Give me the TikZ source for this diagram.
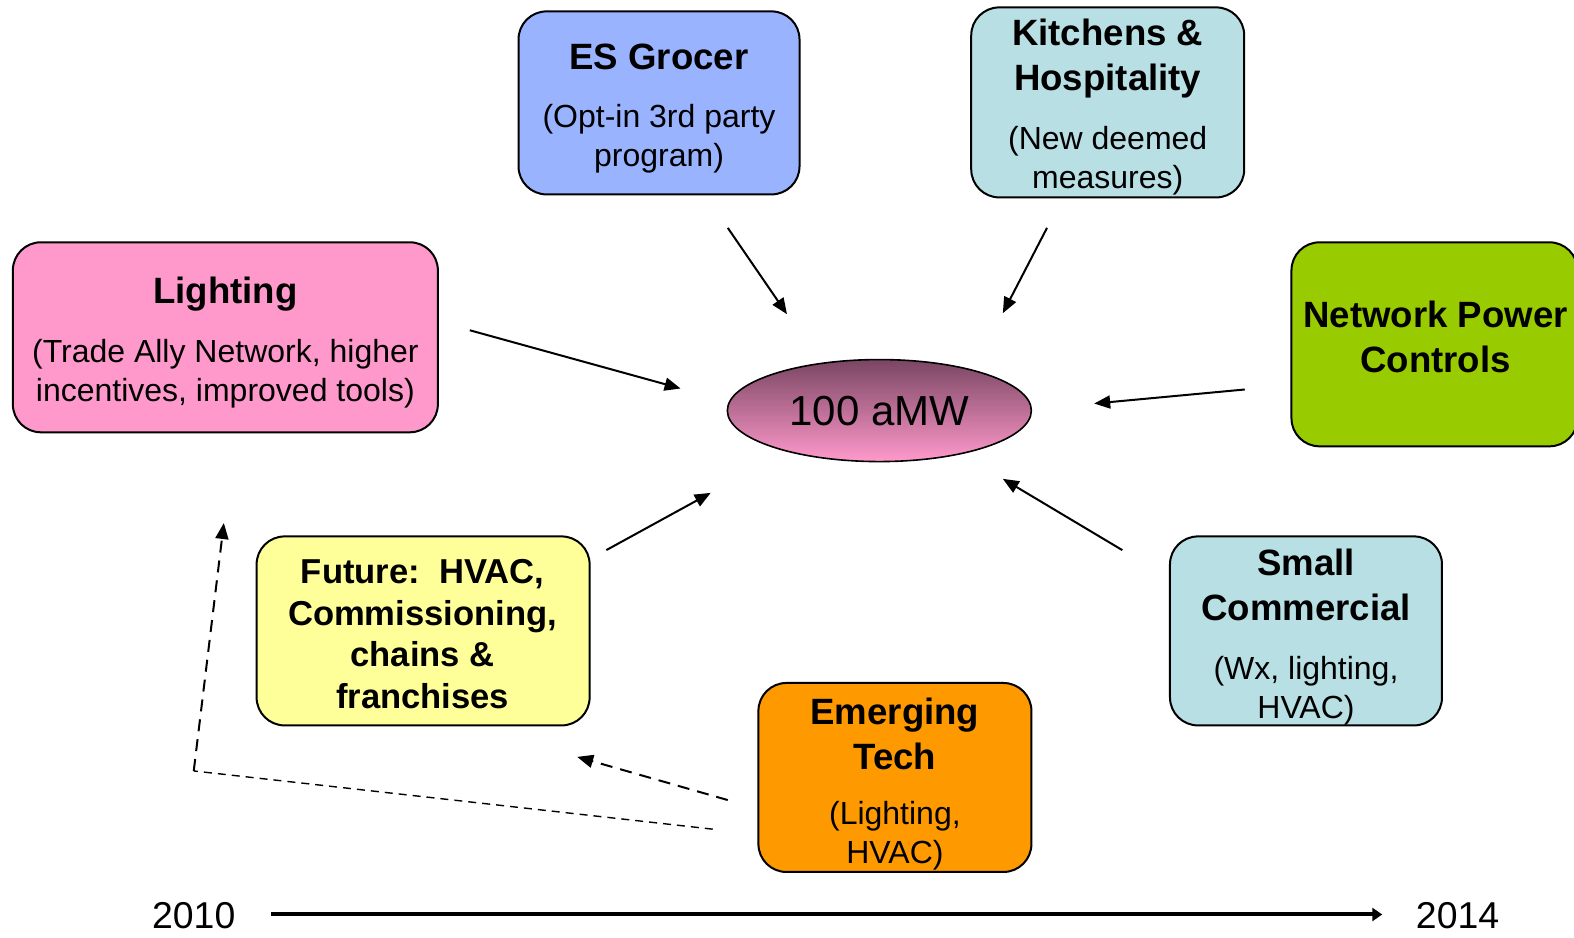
\documentclass[tikz,border=0pt]{standalone}
\usepackage{fontspec}
\setmainfont{Liberation Sans}
\usetikzlibrary{shapes.geometric,arrows.meta}
\definecolor{cGrocer}{RGB}{153,179,255}
\definecolor{cKitchen}{RGB}{183,223,228}
\definecolor{cLight}{RGB}{255,153,204}
\definecolor{cNet}{RGB}{153,204,0}
\definecolor{cFuture}{RGB}{255,255,153}
\definecolor{cEmerg}{RGB}{255,153,0}
\definecolor{cTop}{RGB}{122,70,98}
\definecolor{cBot}{RGB}{255,153,204}
\begin{document}
\begin{tikzpicture}[x=0.50191pt,y=-0.50191pt,
  box/.style={draw=black,line width=1pt,rounded corners=14pt,inner sep=0pt},
  ttl/.style={font=\fontsize{18.3}{22.5}\selectfont\bfseries,align=center,inner sep=0pt},
  sub/.style={font=\fontsize{16}{19.5}\selectfont,align=center,inner sep=0pt},
  fut/.style={font=\fontsize{17.3}{20.8}\selectfont\bfseries,align=center,inner sep=0pt},
  yr/.style={font=\fontsize{18.7}{22}\selectfont,inner sep=0pt},
  arr/.style={line width=1pt,-{Triangle[length=8pt,width=6.5pt]}},
  darr/.style={line width=1pt,dash pattern=on 6pt off 4pt,-{Triangle[length=8pt,width=6.5pt]}},
  thin dash/.style={line width=0.7pt,dash pattern=on 4pt off 3pt},
]
\useasboundingbox (0,0) rectangle (1568,934.4);

% boxes
\node[box,fill=cGrocer,minimum width=140.5pt,minimum height=91.5pt] (grocer) at (656.5,102.5) {};
\node[box,fill=cKitchen,minimum width=136.5pt,minimum height=95pt] (kitchen) at (1103.5,102) {};
\node[box,fill=cLight,minimum width=212.5pt,minimum height=95pt] (light) at (224.5,336) {};
\node[box,fill=cNet,minimum width=143pt,minimum height=102pt] (net) at (1429,343) {};
\node[box,fill=cFuture,minimum width=166.5pt,minimum height=94.5pt] (future) at (421.5,628.5) {};
\node[box,fill=cEmerg,minimum width=136.5pt,minimum height=94.5pt] (emerg) at (891.5,774.5) {};
\node[box,fill=cKitchen,minimum width=136pt,minimum height=94.5pt] (small) at (1301,628.5) {};

% texts
\node[ttl] (grocerT) at (656.5,57) {ES Grocer};
\node[sub] (grocerS) at (656.5,138.5) {(Opt-in 3rd party\\program)};
\node[ttl] (kitchenT) at (1103.5,58.5) {Kitchens \&\\Hospitality};
\node[sub] (kitchenS) at (1103.5,160) {(New deemed\\measures)};
\node[ttl] (lightT) at (224.5,292.5) {Lighting};
\node[sub] (lightS) at (224.5,372) {(Trade Ally Network, higher\\incentives, improved tools)};
\node[ttl] (netT) at (1430,335.5) {Network Power\\Controls};
\node[fut] (futureT) at (421,631.5) {Future:\ \ HVAC,\\Commissioning,\\chains \&\\franchises};
\node[ttl] (emergT) at (891.5,731) {Emerging\\Tech};
\node[sub] (emergS) at (891.5,833) {(Lighting,\\HVAC)};
\node[ttl] (smallT) at (1301,582.5) {Small\\Commercial};
\node[sub] (smallS) at (1301,688) {(Wx, lighting,\\HVAC)};

% center ellipse
\node[ellipse,draw=black,line width=0.8pt,top color=cTop,bottom color=cBot,
      minimum width=152pt,minimum height=51pt,inner sep=0pt,
      font=\fontsize{21}{25}\selectfont] (mw) at (876,409) {100 aMW};

% arrow end points
\coordinate (a1s) at (725,227);  \coordinate (a1e) at (784,313);
\coordinate (a2s) at (1043,227); \coordinate (a2e) at (999,312);
\coordinate (a3s) at (468,329);  \coordinate (a3e) at (678,387);
\coordinate (a4s) at (1240,388); \coordinate (a4e) at (1090,402);
\coordinate (a5s) at (604,548);  \coordinate (a5e) at (708,491);
\coordinate (a6s) at (1118,548); \coordinate (a6e) at (999,477);
\coordinate (d1s) at (725,797);  \coordinate (d1e) at (575,754);
\coordinate (d2s) at (710,826);  \coordinate (d2m) at (193,768); \coordinate (d2e) at (223,521);

\draw[arr] (a1s) -- (a1e);
\draw[arr] (a2s) -- (a2e);
\draw[arr] (a3s) -- (a3e);
\draw[arr] (a4s) -- (a4e);
\draw[arr] (a5s) -- (a5e);
\draw[arr] (a6s) -- (a6e);
\draw[darr] (d1s) -- (d1e);
\draw[thin dash] (d2s) -- (d2m);
\draw[darr] (d2m) -- (d2e);

% timeline
\node[yr] (y0) at (193,912) {2010};
\node[yr] (y1) at (1452,912) {2014};
\coordinate (t0) at (270,911);
\coordinate (t1) at (1377,911);
\draw[line width=2pt,-{Triangle[length=5pt,width=6.5pt]}] (t0) -- (t1);
\end{tikzpicture}
\end{document}
